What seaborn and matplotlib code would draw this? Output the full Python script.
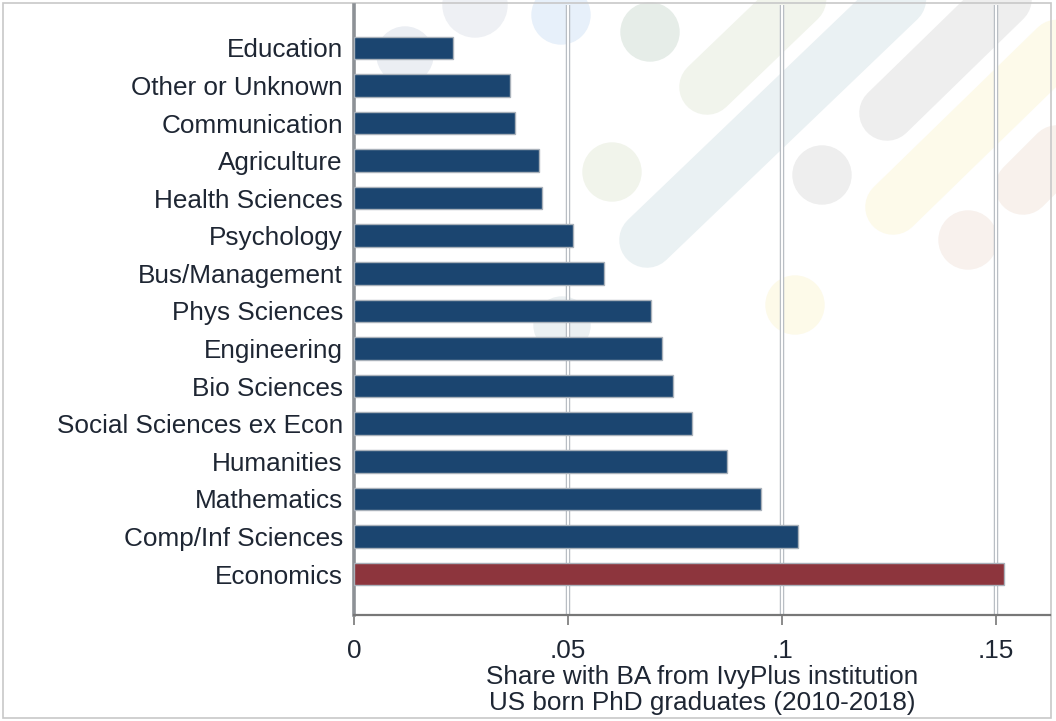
import matplotlib
matplotlib.use("Agg")
import matplotlib.pyplot as plt
import seaborn as sns
import pandas as pd
from matplotlib.lines import Line2D
from matplotlib.patches import Circle, Rectangle

# data
fields = ["Education", "Other or Unknown", "Communication", "Agriculture",
          "Health Sciences", "Psychology", "Bus/Management", "Phys Sciences",
          "Engineering", "Bio Sciences", "Social Sciences ex Econ", "Humanities",
          "Mathematics", "Comp/Inf Sciences", "Economics"]
share_ivyplus = [0.0231, 0.0364, 0.0376, 0.0432, 0.0439, 0.0512, 0.0584, 0.0694,
                 0.0720, 0.0745, 0.0790, 0.0871, 0.0951, 0.1037, 0.1519]
highlight = ["other"] * 14 + ["econ"]
x_ticks = [0, 0.05, 0.10, 0.15]
x_ticklabels = ["0", ".05", ".1", ".15"]

df = pd.DataFrame({"field": fields, "share": share_ivyplus, "group": highlight})

sns.set_style("white")
plt.rcParams["font.family"] = ["Liberation Sans", "DejaVu Sans"]

W, H = 1056, 721
fig = plt.figure(figsize=(W / 100, H / 100), dpi=100)

# faded slide background (pixel positions, y from top)
def px(x, y):
    return x, H - y

stripes = [((707, 87), (860, -60), "#f1f4ec"),
           ((647, 240), (960, -60), "#eaf1f3"),
           ((887, 113), (1080, -75), "#eeeeee"),
           ((893, 207), (1080, 25), "#fdfaea"),
           ((1023, 187), (1080, 130), "#f8f1ec")]
for (x0, y0), (x1, y1), c in stripes:
    a, b = px(x0, y0), px(x1, y1)
    fig.add_artist(Line2D([a[0], b[0]], [a[1], b[1]], transform=None,
                          lw=40, color=c, solid_capstyle="round", zorder=0))
circles = [(475, 5, 32, "#eef0f4"), (405, 55, 28, "#ebeef3"), (561, 15, 29, "#e7f0fa"),
           (650, 32, 29, "#e6ede8"), (612, 172, 29, "#f1f4eb"), (822, 175, 29, "#eeeeee"),
           (795, 305, 29, "#fdfae9"), (968, 240, 29, "#f8f1ed"), (562, 325, 28, "#ebf0f2")]
for cx, cy, r, c in circles:
    fig.add_artist(Circle(px(cx, cy), r, transform=None, color=c, zorder=0))
fig.add_artist(Rectangle((3 / W, 3 / H), (W - 8) / W, (H - 6) / H, transform=fig.transFigure,
                         fill=False, edgecolor="#c8c8c8", lw=1.2, zorder=0))

ax = fig.add_axes([354 / W, 1 - 615 / H, (1050 - 354) / W, (615 - 5) / H])
ax.patch.set_alpha(0)

sns.barplot(data=df, y="field", x="share", hue="group", orient="h",
            palette={"other": "#1b4570", "econ": "#8d353d"}, legend=False,
            width=0.6, edgecolor="#a9b1ba", linewidth=1.0, dodge=False,
            saturation=1, zorder=3, ax=ax)

# double-line grid like the stata scheme
for t in x_ticks[1:]:
    ax.axvline(t, color="#b9bec4", lw=3.2, zorder=1)
    ax.axvline(t, color="white", lw=1.4, zorder=1.5)

ax.set_xlim(0, (1050 - 354) / 4280)
ax.set_ylim(len(fields) - 1 + 1.09, -1.14)
ax.set_xticks(x_ticks)
ax.set_xticklabels(x_ticklabels)
ax.set_xlabel("Share with BA from IvyPlus institution\nUS born PhD graduates (2010-2018)",
              fontsize=18.8, color="#1e2633", labelpad=2, linespacing=1.08)
ax.set_ylabel("")
ax.tick_params(axis="y", length=0, pad=8, labelsize=18.8, labelcolor="#1e2633")
ax.tick_params(axis="x", length=7, width=1.2, color="#777777", pad=10,
               labelsize=18.8, labelcolor="#1e2633", bottom=True, direction="out")

for s in ["top", "right"]:
    ax.spines[s].set_visible(False)
ax.spines["left"].set_color("#8d9196")
ax.spines["left"].set_linewidth(2.6)
ax.spines["bottom"].set_color("#777777")
ax.spines["bottom"].set_linewidth(1.6)

fig.savefig("out.png", dpi=100)
